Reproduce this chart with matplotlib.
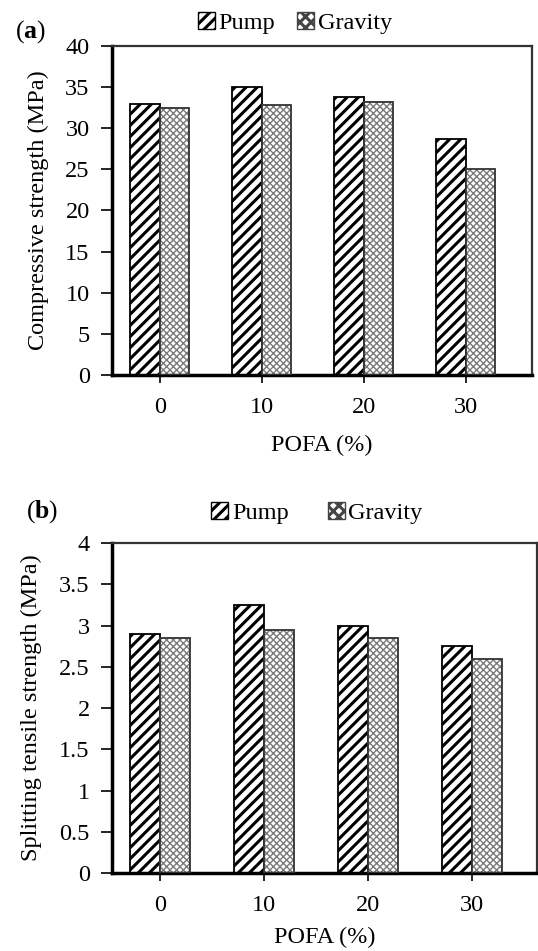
import matplotlib
matplotlib.use("Agg")
import matplotlib.pyplot as plt
import numpy as np
from matplotlib.patches import Patch

plt.rcParams['font.family'] = ['Liberation Serif', 'DejaVu Serif']
plt.rcParams['mathtext.fontset'] = 'custom'
plt.rcParams['mathtext.rm'] = 'Liberation Serif'
plt.rcParams['mathtext.bf'] = 'Liberation Serif:bold'
plt.rcParams['hatch.linewidth'] = 2.2

categories = ['0', '10', '20', '30']
series_names = ['Pump', 'Gravity']
comp_pump = [33.0, 35.05, 33.8, 28.65]
comp_gravity = [32.5, 32.8, 33.15, 25.0]
split_pump = [2.90, 3.25, 3.00, 2.75]
split_gravity = [2.85, 2.95, 2.85, 2.60]

fig = plt.figure(figsize=(5.38, 9.51), dpi=100)
axa = fig.add_axes([0.208, 0.6057, 0.781, 0.346])
axb = fig.add_axes([0.208, 0.082, 0.790, 0.347])

FS = 17.5
bw = 0.29


def draw(ax, pump, grav, ylim, yticks, yticklabels, ylabel, xlim, xpad):
    x = np.arange(len(categories))
    ax.bar(x - bw / 2, pump, bw, color='white', edgecolor='black', hatch='///', linewidth=1.3, zorder=2)
    g = ax.bar(x + bw / 2, grav, bw, color='white', edgecolor='#7a7a7a', hatch='xxxxx', linewidth=0, zorder=2)
    for p in g:
        if hasattr(p, 'set_hatch_linewidth'):
            p.set_hatch_linewidth(1.0)
    ax.bar(x + bw / 2, grav, bw, fill=False, edgecolor='#333333', linewidth=1.3, zorder=3)
    ax.set_xlim(*xlim)
    ax.set_ylim(*ylim)
    ax.set_xticks(x)
    ax.set_xticklabels(categories, fontsize=FS)
    ax.set_yticks(yticks)
    ax.set_yticklabels(yticklabels, fontsize=FS)
    ax.set_xlabel('POFA (%)', fontsize=FS, labelpad=xpad)
    ax.set_ylabel(ylabel, fontsize=FS, labelpad=12)
    ax.tick_params(axis='y', direction='out', length=8, width=1.2, pad=8)
    ax.tick_params(axis='x', direction='out', length=6, width=1.2, pad=10)
    ax.spines['left'].set_linewidth(2.5)
    ax.spines['bottom'].set_linewidth(2.5)
    ax.spines['top'].set_linewidth(1.6)
    ax.spines['right'].set_linewidth(1.6)
    ax.spines['top'].set_color('#333333')
    ax.spines['right'].set_color('#333333')


draw(axa, comp_pump, comp_gravity, (0, 40), np.arange(0, 41, 5),
     [str(v) for v in range(0, 41, 5)], 'Compressive strength (MPa)', (-0.47, 3.65), 12)
draw(axb, split_pump, split_gravity, (0, 4), np.arange(0, 4.01, 0.5),
     ['0', '0.5', '1', '1.5', '2', '2.5', '3', '3.5', '4'],
     'Splitting tensile strength (MPa)', (-0.46, 3.625), 8)

handles = [Patch(facecolor='white', edgecolor='black', hatch='///', linewidth=1.0),
           Patch(facecolor='white', edgecolor='#444444', hatch='xxx', linewidth=1.0)]
for h in handles:
    if hasattr(h, 'set_hatch_linewidth'):
        h.set_hatch_linewidth(1.2)
fig.legend(handles, series_names, loc='center', bbox_to_anchor=(295 / 538, 1 - 23 / 951),
           ncol=2, frameon=False, fontsize=FS, handlelength=0.7, handleheight=0.7,
           handletextpad=0.15, columnspacing=0.9, borderpad=0)
fig.legend(handles, series_names, loc='center', bbox_to_anchor=(317 / 538, 1 - 513 / 951),
           ncol=2, frameon=False, fontsize=FS, handlelength=0.7, handleheight=0.7,
           handletextpad=0.15, columnspacing=1.6, borderpad=0)

fig.text(15 / 538, 1 - 32 / 951, r'($\mathbf{a}$)', fontsize=FS + 1, va='center', ha='left')
fig.text(26 / 538, 1 - 512 / 951, r'($\mathbf{b}$)', fontsize=FS + 1, va='center', ha='left')

fig.savefig('out.png', dpi=100)
